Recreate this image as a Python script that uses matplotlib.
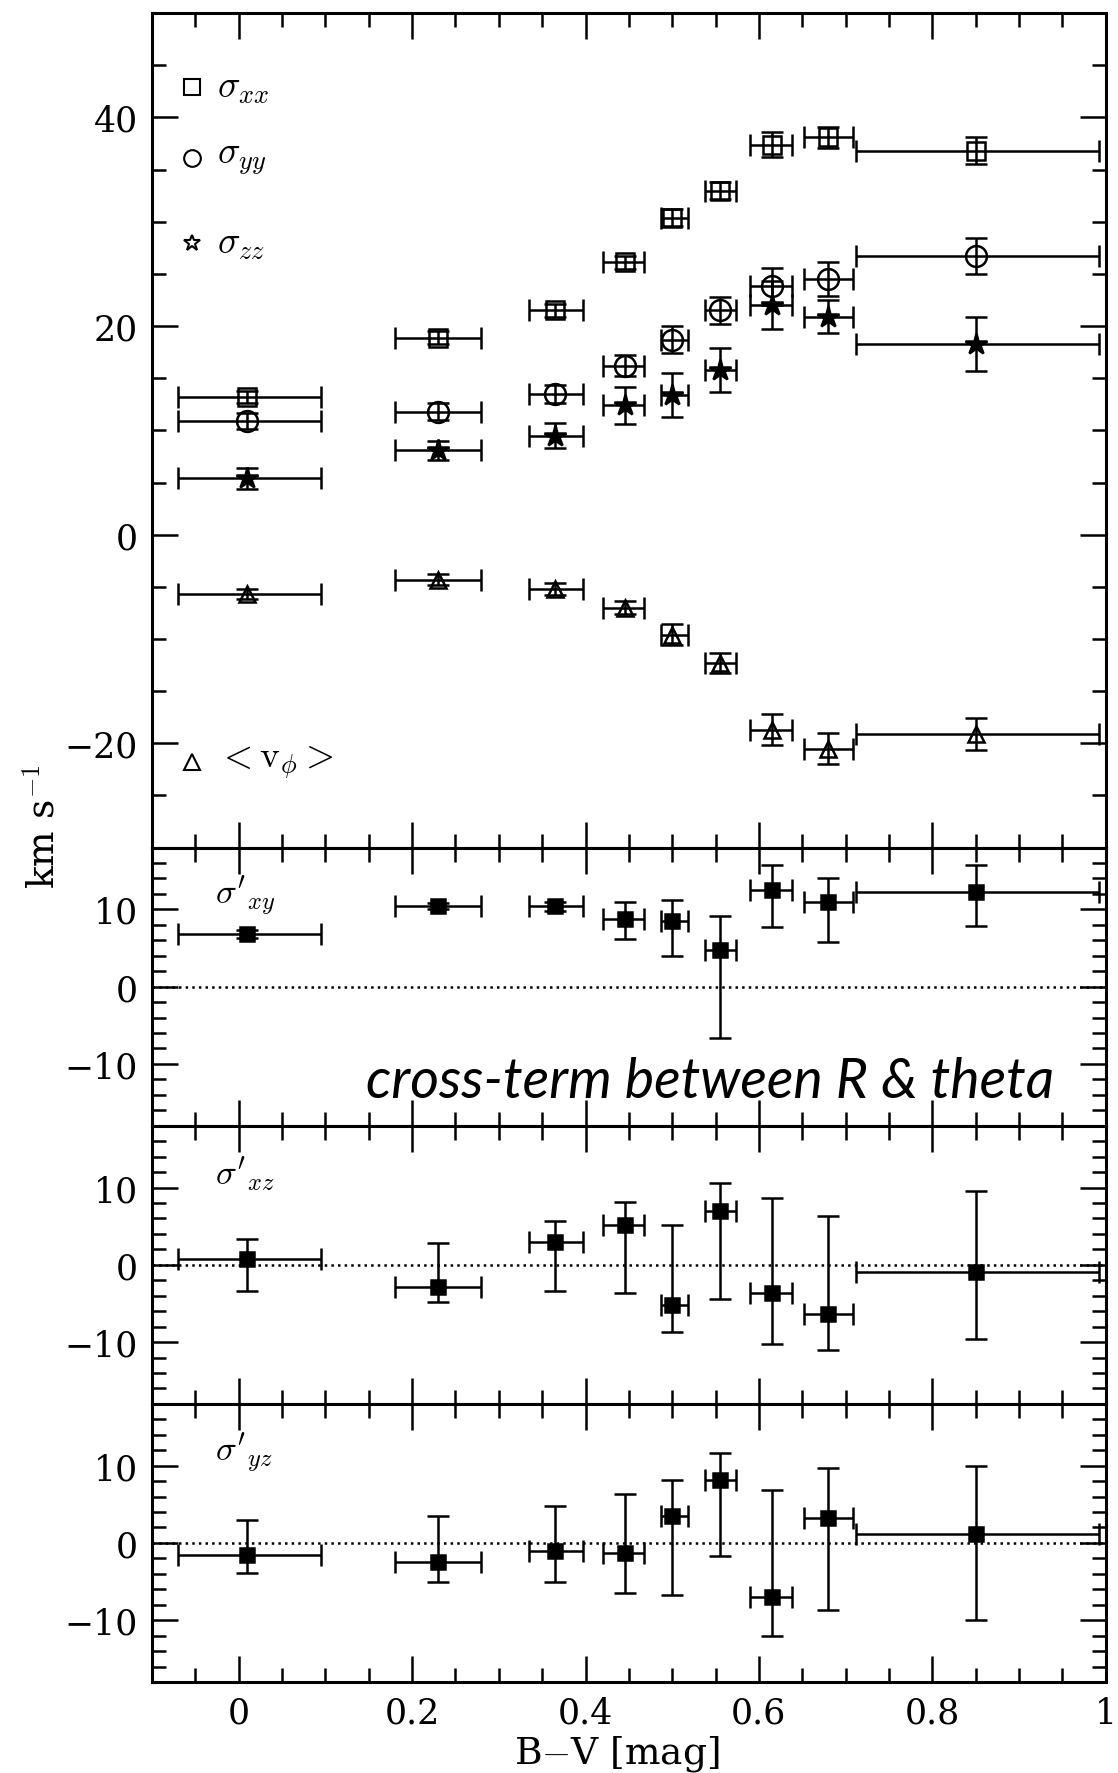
#!/usr/bin/env python3
# -*- coding: utf-8 -*-
"""
Velocity dispersion tensor and mean rotation vs B-V colour
"""

import numpy as np
import matplotlib.pyplot as plt
from matplotlib.ticker import MultipleLocator

plt.rcParams.update({'font.family': 'DejaVu Serif', 'mathtext.fontset': 'cm',
                     'font.size': 24})

# Colour bins: centre and bin edges (mag)
bv = np.array([0.01, 0.23, 0.365, 0.445, 0.50, 0.555, 0.615, 0.68, 0.85])
bv_lo = np.array([-0.07, 0.18, 0.335, 0.42, 0.487, 0.538, 0.59, 0.652, 0.712])
bv_hi = np.array([0.095, 0.28, 0.397, 0.467, 0.518, 0.574, 0.638, 0.709, 0.992])

# Top panel (km/s)
sig_xx = [13.2, 18.9, 21.5, 26.1, 30.4, 33.0, 37.4, 38.1, 36.8]
sig_xx_err = [0.6, 0.6, 0.6, 0.6, 0.8, 0.8, 1.2, 1.0, 1.3]
sig_yy = [10.9, 11.8, 13.5, 16.2, 18.7, 21.5, 23.8, 24.5, 26.7]
sig_yy_err = [0.8, 0.8, 0.9, 1.0, 1.3, 1.3, 1.8, 1.6, 1.7]
sig_zz = [5.4, 8.1, 9.5, 12.4, 13.4, 15.8, 22.0, 20.9, 18.3]
sig_zz_err = [1.0, 0.9, 1.2, 1.8, 2.1, 2.1, 2.3, 1.6, 2.6]
vphi = [-5.7, -4.3, -5.2, -7.0, -9.6, -12.3, -18.7, -20.5, -19.1]
vphi_err = [0.5, 0.5, 0.6, 0.6, 1.0, 1.0, 1.5, 1.5, 1.5]

# Cross terms: value, lower error, upper error
sig_xy = [6.8, 10.4, 10.4, 8.7, 8.5, 4.7, 12.5, 10.9, 12.3]
sig_xy_lo = [0.5, 0.4, 0.6, 2.5, 4.5, 11.3, 4.8, 5.1, 4.5]
sig_xy_hi = [0.5, 0.4, 0.6, 2.2, 2.7, 4.5, 3.2, 3.1, 3.4]
sig_xz = [0.8, -2.9, 3.0, 5.1, -5.2, 6.9, -3.6, -6.4, -0.9]
sig_xz_lo = [4.2, 1.9, 6.4, 8.8, 3.5, 11.3, 6.6, 4.6, 8.7]
sig_xz_hi = [2.6, 5.7, 2.7, 3.0, 10.4, 3.7, 12.2, 12.7, 10.5]
sig_yz = [-1.6, -2.5, -1.0, -1.3, 3.5, 8.2, -7.0, 3.2, 1.2]
sig_yz_lo = [2.3, 2.6, 4.0, 5.2, 10.2, 9.9, 5.1, 11.9, 11.2]
sig_yz_hi = [4.6, 6.0, 5.8, 7.6, 4.7, 3.5, 13.8, 6.5, 8.8]

xerr = [bv - bv_lo, bv_hi - bv]

fig = plt.figure(figsize=(11.18, 17.74), dpi=100)
gs = fig.add_gridspec(4, 1, height_ratios=[3, 1, 1, 1], hspace=0,
                      left=0.136, right=0.989, top=0.992, bottom=0.0513)
axes = [fig.add_subplot(gs[i]) for i in range(4)]

eb = dict(ecolor='k', elinewidth=1.8, capsize=8, capthick=1.8, mec='k', mew=1.8)

# Top panel
ax = axes[0]
ax.errorbar(bv, sig_xx, yerr=sig_xx_err, xerr=xerr, fmt='s', ms=13, mfc='none', **eb)
ax.errorbar(bv, sig_yy, yerr=sig_yy_err, xerr=xerr, fmt='o', ms=15, mfc='none', **eb)
ax.errorbar(bv, sig_zz, yerr=sig_zz_err, xerr=xerr, fmt='*', ms=16, mfc='k', **eb)
ax.errorbar(bv, vphi, yerr=vphi_err, xerr=xerr, fmt='^', ms=12, mfc='none', **eb)
ax.set_ylim(-30, 50)
ax.yaxis.set_major_locator(MultipleLocator(20))
ax.yaxis.set_minor_locator(MultipleLocator(5))

# Legend keys
keys = [('s', r'$\sigma_{xx}$', 0.911), ('o', r'$\sigma_{yy}$', 0.827),
        ('*', r'$\sigma_{zz}$', 0.725), ('^', r'$<\mathrm{v}_{\phi}>$', 0.103)]
for m, lab, y in keys:
    ax.plot([0.042], [y], m, ms=12, mfc='none', mec='k', mew=1.5, transform=ax.transAxes)
    ax.text(0.068, y, lab, transform=ax.transAxes, va='center', fontsize=27)

# Cross-term panels
cross = [(sig_xy, sig_xy_lo, sig_xy_hi, r"$\sigma'_{xy}$"),
         (sig_xz, sig_xz_lo, sig_xz_hi, r"$\sigma'_{xz}$"),
         (sig_yz, sig_yz_lo, sig_yz_hi, r"$\sigma'_{yz}$")]
for ax, (v, lo, hi, lab) in zip(axes[1:], cross):
    ax.axhline(0, color='k', ls=':', lw=1.8)
    ax.errorbar(bv, v, yerr=[lo, hi], xerr=xerr, fmt='s', ms=10, mfc='k', **eb)
    ax.set_ylim(-18, 18)
    ax.yaxis.set_major_locator(MultipleLocator(10))
    ax.yaxis.set_minor_locator(MultipleLocator(2))
    ax.text(0.066, 0.83, lab, transform=ax.transAxes, va='center', fontsize=25)

axes[1].text(0.946, 0.16, 'cross-term between R & theta', transform=axes[1].transAxes,
             ha='right', va='center', fontsize=40, style='italic', family='Lato')

for i, ax in enumerate(axes):
    ax.set_xlim(-0.1, 1.0)
    ax.xaxis.set_major_locator(MultipleLocator(0.2))
    ax.xaxis.set_minor_locator(MultipleLocator(0.05))
    ax.tick_params(which='both', direction='in', top=True, right=True, width=1.8)
    ax.tick_params(which='major', length=19, pad=10, labelsize=25)
    ax.tick_params(which='minor', length=10)
    for s in ax.spines.values():
        s.set_linewidth(2.2)
    if i < 3:
        ax.tick_params(labelbottom=False)

axes[3].set_xticks([0, 0.2, 0.4, 0.6, 0.8, 1.0])
axes[3].set_xticklabels(['0', '0.2', '0.4', '0.6', '0.8', '1'])

# Labels
fig.text(0.040, 0.534, r'km s$^{-1}$', rotation=90, ha='center', va='center', fontsize=27)
fig.text(0.552, 0.011, 'B$-$V [mag]', ha='center', va='center', fontsize=27)

fig.savefig('out.png', dpi=100, facecolor='white')
